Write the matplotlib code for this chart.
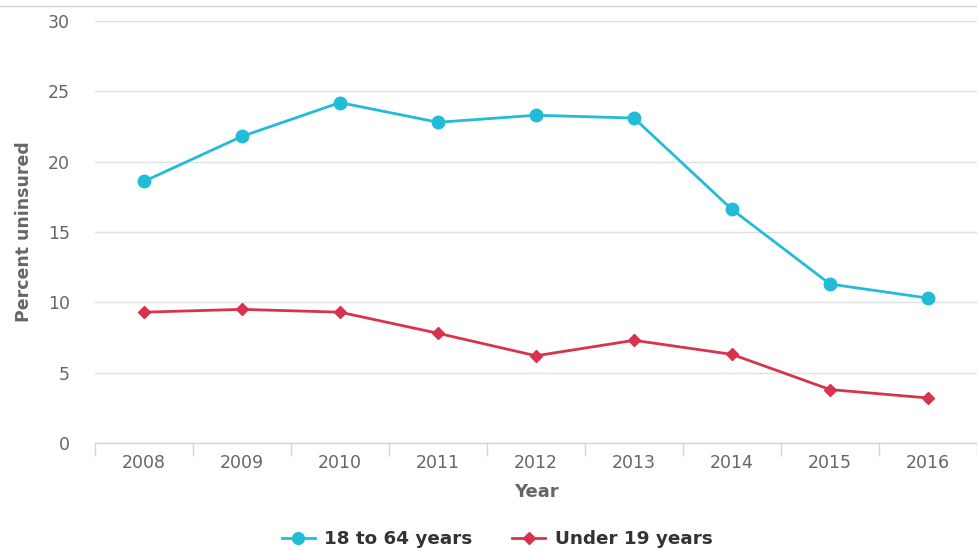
import matplotlib
matplotlib.use("Agg")
import matplotlib.pyplot as plt
from matplotlib.lines import Line2D
import numpy as np

plt.rcParams["font.family"] = ["DejaVu Sans"]

years = ["2008", "2009", "2010", "2011", "2012", "2013", "2014", "2015", "2016"]
adults_18_64 = [18.6, 21.8, 24.2, 22.8, 23.3, 23.1, 16.6, 11.3, 10.3]
under_19 = [9.3, 9.5, 9.3, 7.8, 6.2, 7.3, 6.3, 3.8, 3.2]
series_names = ["18 to 64 years", "Under 19 years"]
y_ticks = [0, 5, 10, 15, 20, 25, 30]

W, H = 977, 550
fig = plt.figure(figsize=(W / 100, H / 100), dpi=100)
ax = fig.add_axes([95 / W, 1 - 443 / H, (977 - 95) / W, (443 - 21) / H])

cyan = "#22bcd6"
red = "#d7334c"
x = np.arange(len(years))

ax.plot(x, adults_18_64, color=cyan, lw=2.0, marker="o", ms=9, zorder=3,
        solid_capstyle="round")
ax.plot(x, under_19, color=red, lw=2.0, marker="D", ms=6.2, zorder=3)

ax.set_xlim(-0.5, len(years) - 0.5)
ax.set_ylim(0, 30)
ax.set_yticks(y_ticks)
ax.set_yticklabels([str(v) for v in y_ticks])
ax.set_xticks(x)
ax.set_xticklabels(years)
ax.set_xticks(np.arange(-0.5, len(years) - 0.4, 1), minor=True)

for s in ["top", "right", "left"]:
    ax.spines[s].set_visible(False)
ax.spines["bottom"].set_color("#ccd6eb")
ax.spines["bottom"].set_linewidth(1.0)

ax.grid(axis="y", color="#e0e0e0", lw=1.0)
ax.set_axisbelow(True)

ax.tick_params(axis="y", length=0, pad=18, labelsize=12.5, labelcolor="#666666")
ax.tick_params(axis="x", which="major", length=0, pad=8, labelsize=12.5, labelcolor="#666666")
ax.tick_params(axis="x", which="minor", length=9, width=1.0, color="#ccd6eb")

ax.set_xlabel("Year", fontsize=13, fontweight="bold", color="#666666", labelpad=8)
ax.set_ylabel("Percent uninsured", fontsize=12.5, fontweight="bold", color="#666666")
ax.yaxis.set_label_coords(-62 / (977 - 95), 0.5)

# top frame line
fig.add_artist(Line2D([0, 1], [1 - 6 / H, 1 - 6 / H], color="#d0d0d0", lw=1.0,
                      transform=fig.transFigure))

handles = [
    Line2D([], [], color=cyan, lw=2.0, marker="o", ms=8.5),
    Line2D([], [], color=red, lw=2.0, marker="D", ms=6),
]
leg = fig.legend(handles, series_names, loc="center", bbox_to_anchor=(497 / W, 1 - 539 / H),
                 ncol=2, frameon=False, handlelength=1.8, handletextpad=0.5, columnspacing=2.2,
                 prop={"size": 13.2, "weight": "bold"})
for t in leg.get_texts():
    t.set_color("#333333")

fig.savefig("out.png", dpi=100)
